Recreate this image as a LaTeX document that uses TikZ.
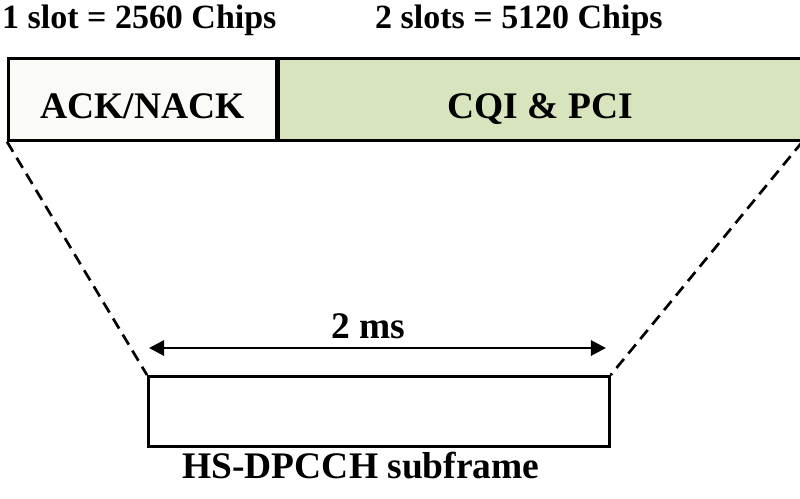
\documentclass[tikz,border=0pt]{standalone}
\usepackage{fontspec}
\setmainfont{Liberation Serif}
\definecolor{ackwhite}{RGB}{250,250,247}
\definecolor{cqigreen}{RGB}{215,228,189}
\usetikzlibrary{arrows.meta,positioning}
\tikzset{
  field/.style={draw,line width=2.3pt,minimum height=2.46cm,inner sep=0pt,text height=33pt,text depth=0pt,font=\fontsize{32}{36}\selectfont\bfseries},
  toplabel/.style={font=\fontsize{29}{33}\selectfont\bfseries,inner sep=0pt,anchor=base west},
  zoomline/.style={line width=2.3pt,dash pattern=on 10pt off 6pt},
}
\begin{document}
\begin{tikzpicture}[x=0.03cm,y=-0.03cm]
  \useasboundingbox (0,0) rectangle (800,499);
  \node[field,fill=ackwhite,minimum width=8.04cm,anchor=north west] (ack) at (7,57) {ACK/NACK};
  \node[field,fill=cqigreen,minimum width=15.66cm,anchor=north west] (cqi) at (ack.north east) {CQI \& PCI};
  \node[toplabel] (slot1) at (2,28) {1 slot = 2560 Chips};
  \node[toplabel] (slot2) at (375,28) {2 slots = 5120 Chips};
  \node[draw,line width=2.3pt,minimum width=13.83cm,minimum height=2.1cm,anchor=north west] (sub) at (147,375) {};
  \node[font=\fontsize{32}{36}\selectfont\bfseries,inner sep=0pt,anchor=base] (subname) at (361,478) {HS-DPCCH subframe};
  \draw[zoomline] (ack.south west) -- (sub.north west);
  \draw[zoomline] (cqi.south east) -- (sub.north east);
  \coordinate (tl) at (149,348);
  \coordinate (tr) at (606,348);
  \draw[line width=2.4pt,{Triangle[length=13pt,width=13pt]}-{Triangle[length=13pt,width=13pt]}] (tl) -- (tr);
  \node[font=\fontsize{32}{36}\selectfont\bfseries,inner sep=0pt,anchor=base] (dur) at (368,338) {2 ms};
\end{tikzpicture}
\end{document}
